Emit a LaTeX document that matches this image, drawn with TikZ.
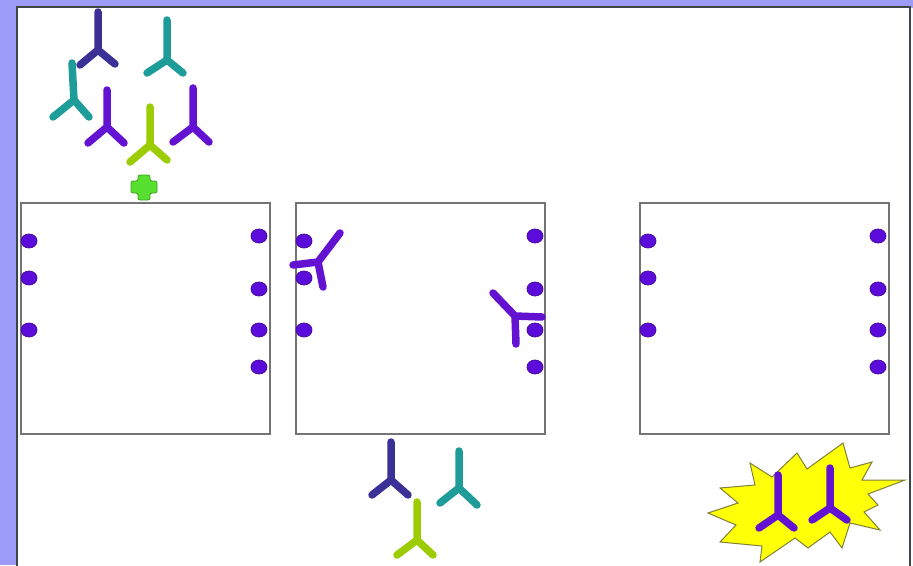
\documentclass[tikz,border=0pt]{standalone}
\begin{document}
\begin{tikzpicture}[x=1pt,y=-1pt,
  ab/.style={line width=7.5pt, line cap=round, line join=round},
  cell/.style={draw=cellgray, line width=1.5pt, fill=white, inner sep=0pt,
    minimum width=249pt, minimum height=231pt, anchor=north west},
  dotc/.style={fill=dotfill, draw=dotedge, line width=0.8pt}]
\definecolor{lav}{HTML}{9C9CF8}
\definecolor{framec}{HTML}{3C4646}
\definecolor{cellgray}{HTML}{747474}
\definecolor{navy}{HTML}{3A3096}
\definecolor{tealc}{HTML}{1E9C9A}
\definecolor{purp}{HTML}{6412D2}
\definecolor{ygreen}{HTML}{9CCC04}
\definecolor{dotfill}{HTML}{5C0CDA}
\definecolor{dotedge}{HTML}{4A0AA0}
\definecolor{crossg}{HTML}{58E030}
\definecolor{crossedge}{HTML}{3E9E22}
\definecolor{burst}{HTML}{FFFF08}
\definecolor{burstedge}{HTML}{80803A}
\newcommand\abody[5]{\draw[ab,#1] (#4) -- (#3) -- (#5) (#3) -- (#2);}
\useasboundingbox (0,0) rectangle (913,565);
% page background and slide frame
\fill[lav] (0,0) rectangle (913,565);
\fill[white] (17,7) rectangle (910,566);
\draw[framec, line width=1.6pt] (17,566) -- (17,7) -- (910,7) -- (910,566);
\fill[white!95!lav] (911,8) rectangle (913,565);
% three cells
\node[cell] (c1) at (20,202) {};
\node[cell] (c2) at (295,202) {};
\node[cell] (c3) at (639,202) {};
% receptors on the cell surfaces
\foreach \x/\ys in {29/{241,278,330}, 304/{241,278,330}, 648/{241,278,330},
                    259/{236,289,330,367}, 535/{236,289,330,367}, 878/{236,289,330,367}}{
  \foreach \y in \ys { \filldraw[dotc] (\x,\y) ellipse (8 and 7); }
}
% free antibodies above the first cell
\abody{navy}{98,12}{98,50}{80,65}{115,64}
\abody{tealc}{167,20}{167,60}{147,73}{183,73}
\abody{tealc}{72,63}{74,100}{53,117}{89,117}
\abody{purp}{107,90}{107,127}{88,143}{124,143}
\abody{ygreen}{150,107}{150,145}{130,162}{167,160}
\abody{purp}{193,88}{193,127}{173,142}{209,142}
% antigen marker
\filldraw[fill=crossg, draw=crossedge, line width=0.8pt, rounded corners=2pt]
  (138,175) -- (150,175) -- (150,181) -- (157,181) -- (157,193) -- (150,193)
  -- (150,200) -- (138,200) -- (138,193) -- (131,193) -- (131,181) -- (138,181) -- cycle;
% antibodies bound to the second cell
\abody{purp}{340,233}{318,262}{293,265}{323,287}
\abody{purp}{493,293}{515,316}{542,317}{516,344}
% antibodies below the second cell
\abody{navy}{391,442}{391,480}{372,495}{408,495}
\abody{tealc}{459,451}{459,488}{440,503}{477,505}
\abody{ygreen}{417,502}{417,540}{397,555}{433,555}
% burst with two antibodies
\filldraw[fill=burst, draw=burstedge, line width=1pt, line join=miter]
  (708,513) -- (738,503) -- (720,488) -- (755,485) -- (750,463) -- (772,477)
  -- (797,453) -- (807,469) -- (843,443) -- (850,468) -- (872,462) -- (862,480)
  -- (905,480) -- (868,494) -- (878,505) -- (864,512) -- (880,530) -- (850,523)
  -- (842,548) -- (830,532) -- (808,548) -- (795,538) -- (760,562) -- (762,546)
  -- (720,542) -- (736,525) -- cycle;
\abody{purp}{778,475}{778,515}{759,528}{794,528}
\abody{purp}{830,468}{830,508}{812,520}{847,520}
\end{tikzpicture}
\end{document}
